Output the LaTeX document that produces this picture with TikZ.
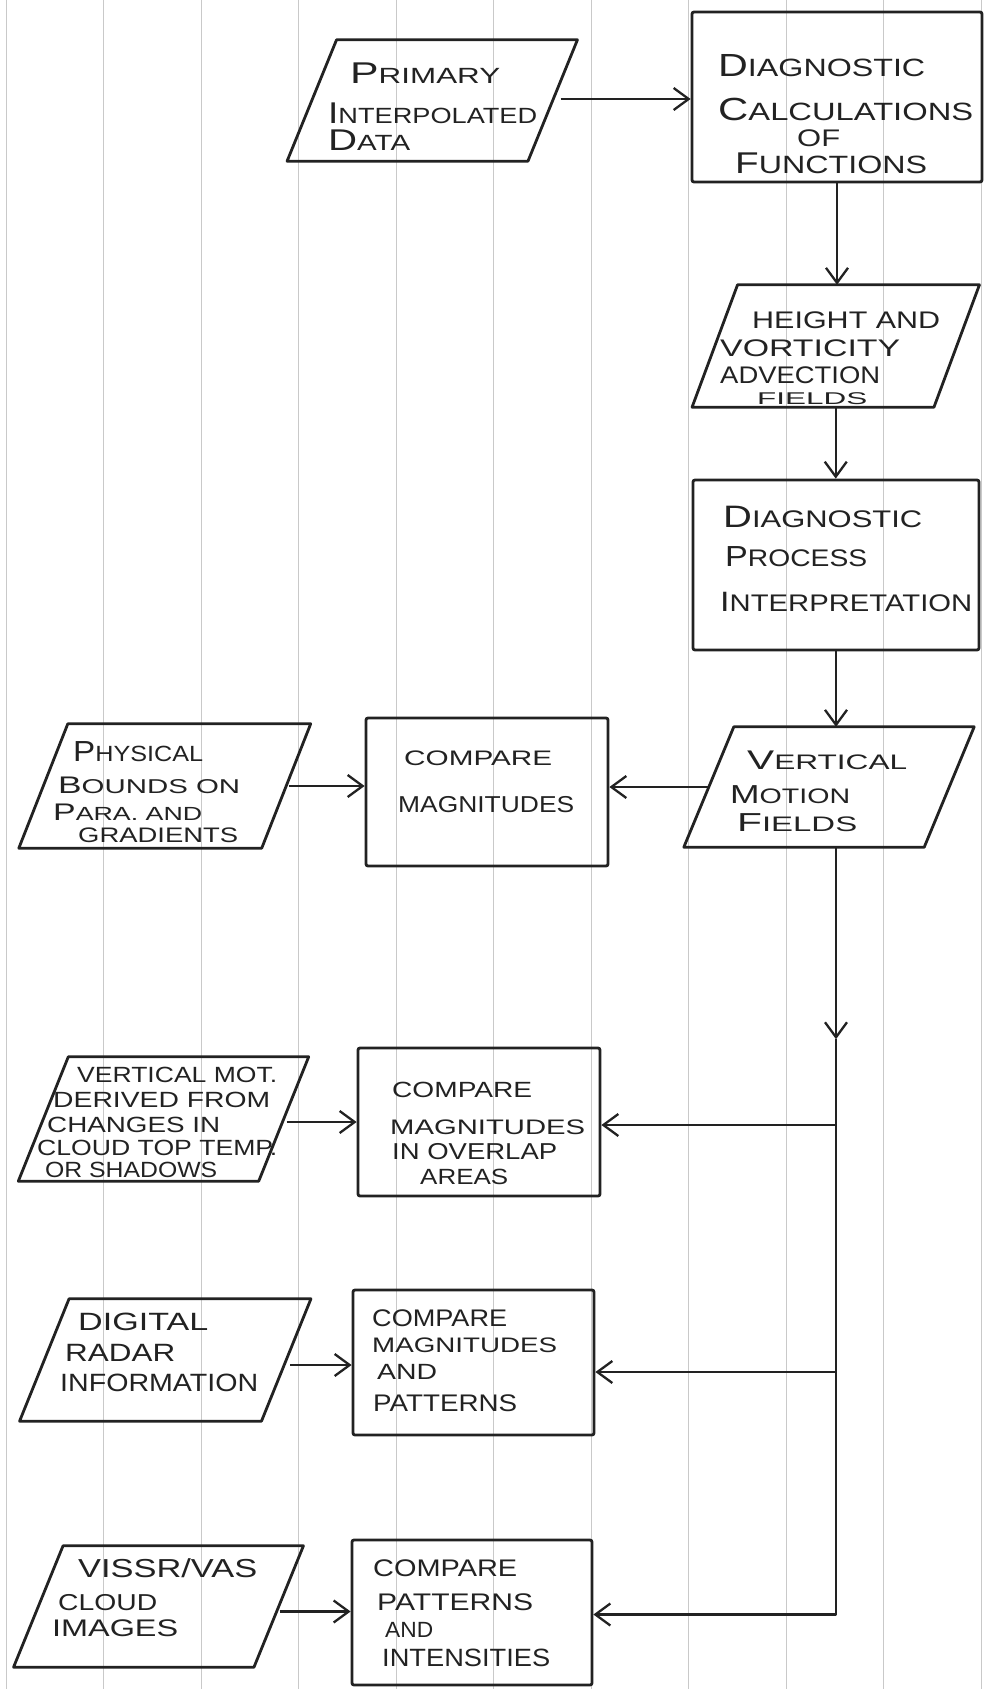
\documentclass[tikz,border=0pt]{standalone}
\usepackage{fontspec}
\usepackage{graphicx}
\setmainfont{Liberation Sans}
\usetikzlibrary{arrows.meta,calc}
\definecolor{ink}{HTML}{222222}
\definecolor{rulegray}{HTML}{C9C9C9}
\tikzset{
  box/.style={draw=ink, line width=2.8pt, rounded corners=2pt, inner sep=0pt},
  io/.style={inner sep=0pt},
  txt/.style={inner sep=0pt, anchor=west, text=ink},
  conn/.style={draw=ink, line width=2.5pt, line join=round},
  arr/.style={conn, -{Straight Barb[length=15pt,width=22pt,line width=2.3pt]}},
  ruleline/.style={draw=rulegray, line width=1pt}
}
\newcommand\ParaOutline[2]{\draw[draw=ink,line width=2.8pt,line join=round] ([xshift=#2]#1.north west) -- ([xshift=#2]#1.north east) -- ([xshift=-#2]#1.south east) -- ([xshift=-#2]#1.south west) -- cycle;}
\newcommand\fs[1]{\fontsize{#1}{#1}\selectfont}
\newcommand\Ini[2]{{\fontsize{#1}{#1}\selectfont #2}}
% name, font size, x start, width, y centre, text
\newcommand\tline[6]{\node[txt,font=\fs{#2}] (#1) at (#3,#5) {\resizebox{#4pt}{\height}{#6}};}
\begin{document}
\begin{tikzpicture}[x=1pt,y=-1pt]
\useasboundingbox (0,0) rectangle (983,1689);
\fill[white] (0,0) rectangle (983,1689);
% ruled paper
\foreach \x in {6,103.5,201,298.5,396,493.5,591,688.5,786,883.5,981}
  \draw[ruleline] (\x,0) -- (\x,1689);

% ---- shapes ----
\node[io, minimum width=240.5pt, minimum height=121pt] (prim) at (432.25,100.5) {};
\ParaOutline{prim}{24.75pt}
\node[box, minimum width=290pt, minimum height=170pt] (diag1) at (837,97) {};
\node[io, minimum width=241.5pt, minimum height=122pt] (height) at (835.75,346) {};
\ParaOutline{height}{22.75pt}
\node[box, minimum width=286pt, minimum height=170pt] (diag2) at (836,565) {};
\node[io, minimum width=240pt, minimum height=120pt] (vm) at (829,787) {};
\ParaOutline{vm}{25pt}
\node[box, minimum width=242pt, minimum height=148pt] (cmp1) at (487,792) {};
\node[io, minimum width=242.5pt, minimum height=124pt] (phys) at (164.75,786) {};
\ParaOutline{phys}{24.5pt}
\node[io, minimum width=240pt, minimum height=124pt] (vm2) at (163.5,1119) {};
\ParaOutline{vm2}{25pt}
\node[box, minimum width=242pt, minimum height=148pt] (cmp2) at (479,1122) {};
\node[io, minimum width=241.5pt, minimum height=122pt] (dig) at (165.25,1360) {};
\ParaOutline{dig}{24.75pt}
\node[box, minimum width=241pt, minimum height=145pt] (cmp3) at (473.5,1362.5) {};
\node[io, minimum width=240pt, minimum height=121pt] (vis) at (158.5,1606.5) {};
\ParaOutline{vis}{24.75pt}
\node[box, minimum width=240pt, minimum height=145pt] (cmp4) at (472,1612.5) {};

% ---- texts ----
\tline{t1a}{22}{350}{150}{73}{\Ini{30}{P}RIMARY}
\tline{t1b}{22}{328}{209}{113}{\Ini{30}{I}NTERPOLATED}
\tline{t1c}{22}{328}{82}{140}{\Ini{30}{D}ATA}

\tline{t2a}{25}{718}{207}{66}{\Ini{32}{D}IAGNOSTIC}
\tline{t2b}{25}{718}{255}{109}{\Ini{32}{C}ALCULATIONS}
\tline{t2c}{24}{797}{43}{138}{OF}
\tline{t2d}{25}{735}{192}{163}{\Ini{30}{F}UNCTIONS}

\tline{t3a}{24}{752}{188}{320}{HEIGHT AND}
\tline{t3b}{24}{720}{180}{348}{VORTICITY}
\tline{t3c}{24}{720}{160}{375}{ADVECTION}
\tline{t3d}{17}{757}{110}{399}{FIELDS}

\tline{t4a}{24}{723}{199}{517}{\Ini{31}{D}IAGNOSTIC}
\tline{t4b}{24}{725}{142}{557}{\Ini{29}{P}ROCESS}
\tline{t4c}{24}{720}{252}{602}{\Ini{28}{I}NTERPRETATION}

\tline{t5a}{21}{747}{160}{760}{\Ini{27}{V}ERTICAL}
\tline{t5b}{21}{730}{120}{795}{\Ini{26}{M}OTION}
\tline{t5c}{21}{737}{120}{823}{\Ini{26}{F}IELDS}

\tline{t6a}{22}{73}{130}{752}{\Ini{29}{P}HYSICAL}
\tline{t6b}{20}{58}{182}{785}{\Ini{24}{B}OUNDS ON}
\tline{t6c}{19}{53}{149}{812}{\Ini{24}{P}ARA. AND}
\tline{t6d}{21}{78}{160}{835}{GRADIENTS}

\tline{t7a}{21}{404}{148}{758}{COMPARE}
\tline{t7b}{23}{398}{176}{805}{MAGNITUDES}

\tline{t8a}{22}{77}{200}{1075}{VERTICAL MOT.}
\tline{t8b}{22}{53}{217}{1100}{DERIVED FROM}
\tline{t8c}{22}{47}{173}{1125}{CHANGES IN}
\tline{t8d}{22}{37}{240}{1148}{CLOUD TOP TEMP.}
\tline{t8e}{22}{45}{172}{1170}{OR SHADOWS}

\tline{t9a}{22}{392}{140}{1090}{COMPARE}
\tline{t9b}{21}{390}{195}{1127}{MAGNITUDES}
\tline{t9c}{23}{392}{165}{1152}{IN OVERLAP}
\tline{t9d}{22}{420}{88}{1177}{AREAS}

\tline{t10a}{25}{78}{130}{1322}{DIGITAL}
\tline{t10b}{25}{65}{110}{1353}{RADAR}
\tline{t10c}{25}{60}{198}{1383}{INFORMATION}

\tline{t11a}{24}{372}{135}{1318}{COMPARE}
\tline{t11b}{21}{372}{185}{1345}{MAGNITUDES}
\tline{t11c}{22}{377}{60}{1372}{AND}
\tline{t11d}{24}{373}{144}{1403}{PATTERNS}

\tline{t12a}{26}{78}{179}{1568}{VISSR/VAS}
\tline{t12b}{23}{58}{99}{1603}{CLOUD}
\tline{t12c}{24}{52}{126}{1628}{IMAGES}

\tline{t13a}{24}{373}{144}{1568}{COMPARE}
\tline{t13b}{24}{377}{156}{1602}{PATTERNS}
\tline{t13c}{22}{385}{48}{1630}{AND}
\tline{t13d}{25}{382}{168}{1658}{INTENSITIES}

% ---- connectors ----
\draw[arr, shorten <=8pt] ([yshift=1.5pt]prim.east) -- ([yshift=1.5pt]prim.east -| diag1.west);
\draw[arr] (diag1.south) -- (diag1.south |- height.north);
\draw[arr] (height.south) -- (height.south |- diag2.north);
\draw[arr] (diag2.south) -- (diag2.south |- vm.north);
\draw[arr] (vm.west) -- (vm.west -| cmp1.east);
\draw[arr, shorten <=3pt] (phys.east) -- (phys.east -| cmp1.west);

\coordinate (j0) at (diag2.south |- vm.south);
\coordinate (j1) at ($(j0)+(0,192)$);
\coordinate (j2) at ($(j0 |- cmp2.east)+(0,3)$);
\coordinate (j3) at ($(j0 |- cmp3.east)+(0,9.5)$);
\coordinate (j4) at ($(j0 |- cmp4.east)+(0,2)$);
\draw[arr] (j0) -- (j1);
\draw[arr] (j1) -- (j4) -- (j4 -| cmp4.east);
\draw[arr] (j2) -- (j2 -| cmp2.east);
\draw[arr] (j3) -- (j3 -| cmp3.east);

\draw[arr, shorten <=3pt] ([yshift=-3pt]vm2.east) -- ([yshift=-3pt]vm2.east -| cmp2.west);
\draw[arr, shorten <=4pt] ([yshift=-5pt]dig.east) -- ([yshift=-5pt]dig.east -| cmp3.west);
\draw[arr, shorten <=1pt] ([yshift=-5pt]vis.east) -- ([yshift=-5pt]vis.east -| cmp4.west);
\end{tikzpicture}
\end{document}
